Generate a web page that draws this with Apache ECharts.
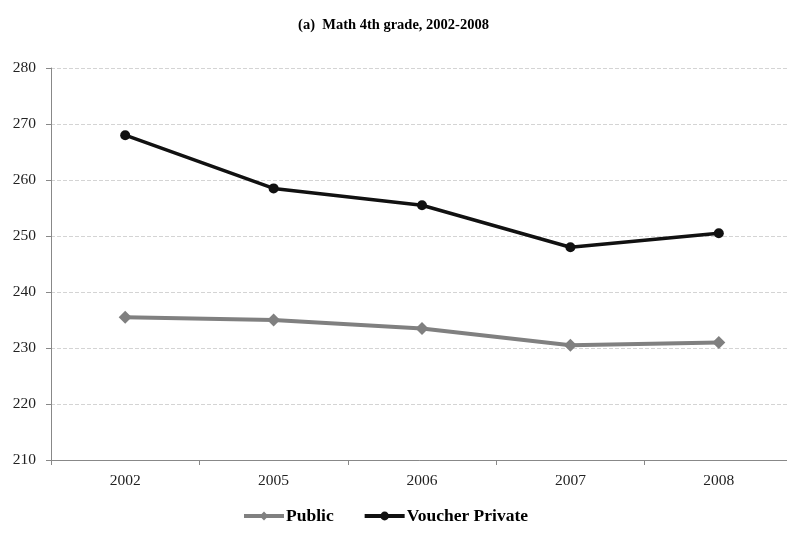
<!DOCTYPE html>
<html>
<head>
<meta charset="utf-8">
<script src="https://cdn.jsdelivr.net/npm/echarts@6/dist/echarts.min.js"></script>
<style>
  html, body { margin: 0; padding: 0; background: #fff; }
  #main { width: 787px; height: 533px; }
</style>
</head>
<body>
<div id="main"></div>
<script>
// data
const years = ["2002", "2005", "2006", "2007", "2008"];
const publicScores = [235.5, 235.0, 233.5, 230.5, 231.0];
const voucherScores = [268.0, 258.5, 255.5, 248.0, 250.5];

const serif = "Liberation Serif";
const chart = echarts.init(document.getElementById("main"));

chart.setOption({
  backgroundColor: "#fff",
  animation: false,
  title: {
    text: "(a)  Math 4th grade, 2002-2008",
    left: "center",
    top: 13,
    textStyle: { fontFamily: serif, fontSize: 14.5, fontWeight: "bold", color: "#000" },
  },
  // plot runs a little past the right edge of the picture
  grid: { left: 51, width: 742, top: 68, bottom: 73, outerBoundsMode: "none" },
  legend: {
    bottom: 3,
    left: 237,
    itemWidth: 40,
    itemHeight: 11,
    itemGap: 29,
    textStyle: { fontFamily: serif, fontSize: 17.5, fontWeight: "bold", color: "#000", padding: [0, 0, 0, -3] },
    data: [
      { name: "Public", lineStyle: { width: 4 } },
      { name: "Voucher Private", lineStyle: { width: 4 } },
    ],
  },
  xAxis: {
    type: "category",
    data: years,
    boundaryGap: true,
    axisLine: { lineStyle: { color: "#888", width: 1 } },
    axisTick: { show: true, length: 5, lineStyle: { color: "#888" } },
    axisLabel: { fontFamily: serif, fontSize: 15.5, color: "#222", margin: 13 },
  },
  yAxis: {
    type: "value",
    min: 210,
    max: 280,
    interval: 10,
    axisLine: { show: true, lineStyle: { color: "#888", width: 1 } },
    axisTick: { show: true, length: 5, lineStyle: { color: "#888" } },
    axisLabel: { fontFamily: serif, fontSize: 15.5, color: "#222", margin: 15 },
    splitLine: { lineStyle: { color: "#d4d4d4", type: [4, 2], width: 1 } },
  },
  series: [
    {
      name: "Public",
      type: "line",
      data: publicScores,
      symbol: "diamond",
      symbolSize: 13,
      color: "#808080",
      lineStyle: { width: 4, color: "#808080" },
      itemStyle: { color: "#808080" },
    },
    {
      name: "Voucher Private",
      type: "line",
      data: voucherScores,
      symbol: "circle",
      symbolSize: 10,
      color: "#111",
      lineStyle: { width: 3.5, color: "#111" },
      itemStyle: { color: "#111" },
    },
  ],
});
</script>
</body>
</html>
